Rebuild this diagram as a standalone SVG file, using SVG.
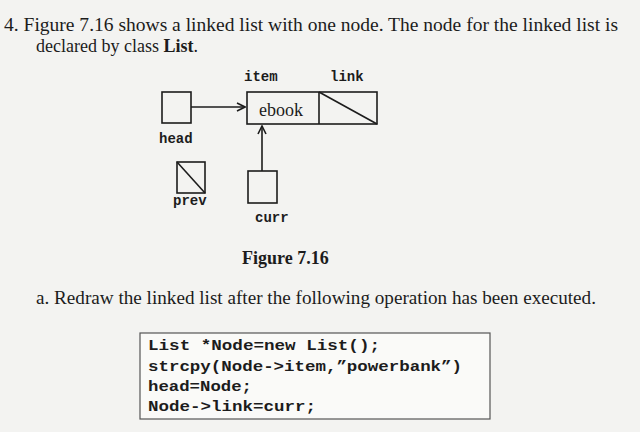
<svg xmlns="http://www.w3.org/2000/svg" width="640" height="432" viewBox="0 0 640 432">
<style>
.t{font-family:"Liberation Serif",serif;fill:#1c1c1c}
.m{font-family:"Liberation Mono",monospace;font-weight:bold;fill:#1c1c1c}
.b{fill:none;stroke:#1c1c1c;stroke-width:1.6}
</style>
<defs><marker id="ah" viewBox="0 0 10 10" refX="9" refY="5" markerWidth="10" markerHeight="10" orient="auto" markerUnits="userSpaceOnUse"><path d="M1,1 L9,5 L1,9" fill="none" stroke="#1c1c1c" stroke-width="1.6"/></marker></defs>
<rect width="640" height="432" fill="#f3f3f1"/>
<text class="t" x="4" y="31" font-size="18" textLength="614" lengthAdjust="spacingAndGlyphs">4.  Figure 7.16 shows a linked list with one node. The node for the linked list is</text>
<text class="t" x="36" y="52" font-size="18">declared by class <tspan font-weight="bold">List</tspan>.</text>
<g id="node">
<rect class="b" x="247" y="92" width="130" height="32"/>
<line class="b" x1="319" y1="92" x2="319" y2="124"/>
<line class="b" x1="319" y1="92" x2="377" y2="124"/>
<text class="t" x="259" y="116" font-size="18">ebook</text>
<text class="m" x="244" y="81" font-size="14">item</text>
<text class="m" x="330" y="81" font-size="14">link</text>
</g>
<g id="head"><rect class="b" x="162" y="92" width="29" height="31"/><text class="m" x="159" y="143" font-size="14">head</text></g>
<g id="prev"><rect class="b" x="177" y="162" width="28" height="31"/><line class="b" x1="177" y1="162" x2="205" y2="193"/><text class="m" x="173" y="205" font-size="14">prev</text></g>
<g id="curr"><rect class="b" x="248" y="171" width="29" height="32"/><text class="m" x="255" y="222" font-size="14">curr</text></g>
<g id="connectors">
<line class="b" x1="191" y1="107" x2="245" y2="107" marker-end="url(#ah)"/>
<line class="b" x1="262" y1="171" x2="262" y2="126" marker-end="url(#ah)"/>
</g>
<text class="t" x="242" y="264" font-size="18" font-weight="bold">Figure 7.16</text>
<text class="t" x="36" y="304" font-size="18" textLength="560" lengthAdjust="spacingAndGlyphs">a.  Redraw the linked list after the following operation has been executed.</text>
<g id="code">
<rect x="140" y="333" width="350" height="86" fill="#fafaf8" stroke="#555" stroke-width="1.2"/>
<text class="m" x="148" y="350" font-size="15" textLength="232" lengthAdjust="spacingAndGlyphs">List *Node=new List();</text>
<text class="m" x="148" y="371" font-size="15" textLength="314" lengthAdjust="spacingAndGlyphs">strcpy(Node-&gt;item,”powerbank”)</text>
<text class="m" x="148" y="391" font-size="15" textLength="104" lengthAdjust="spacingAndGlyphs">head=Node;</text>
<text class="m" x="148" y="411" font-size="15" textLength="168" lengthAdjust="spacingAndGlyphs">Node-&gt;link=curr;</text>
</g>
</svg>
